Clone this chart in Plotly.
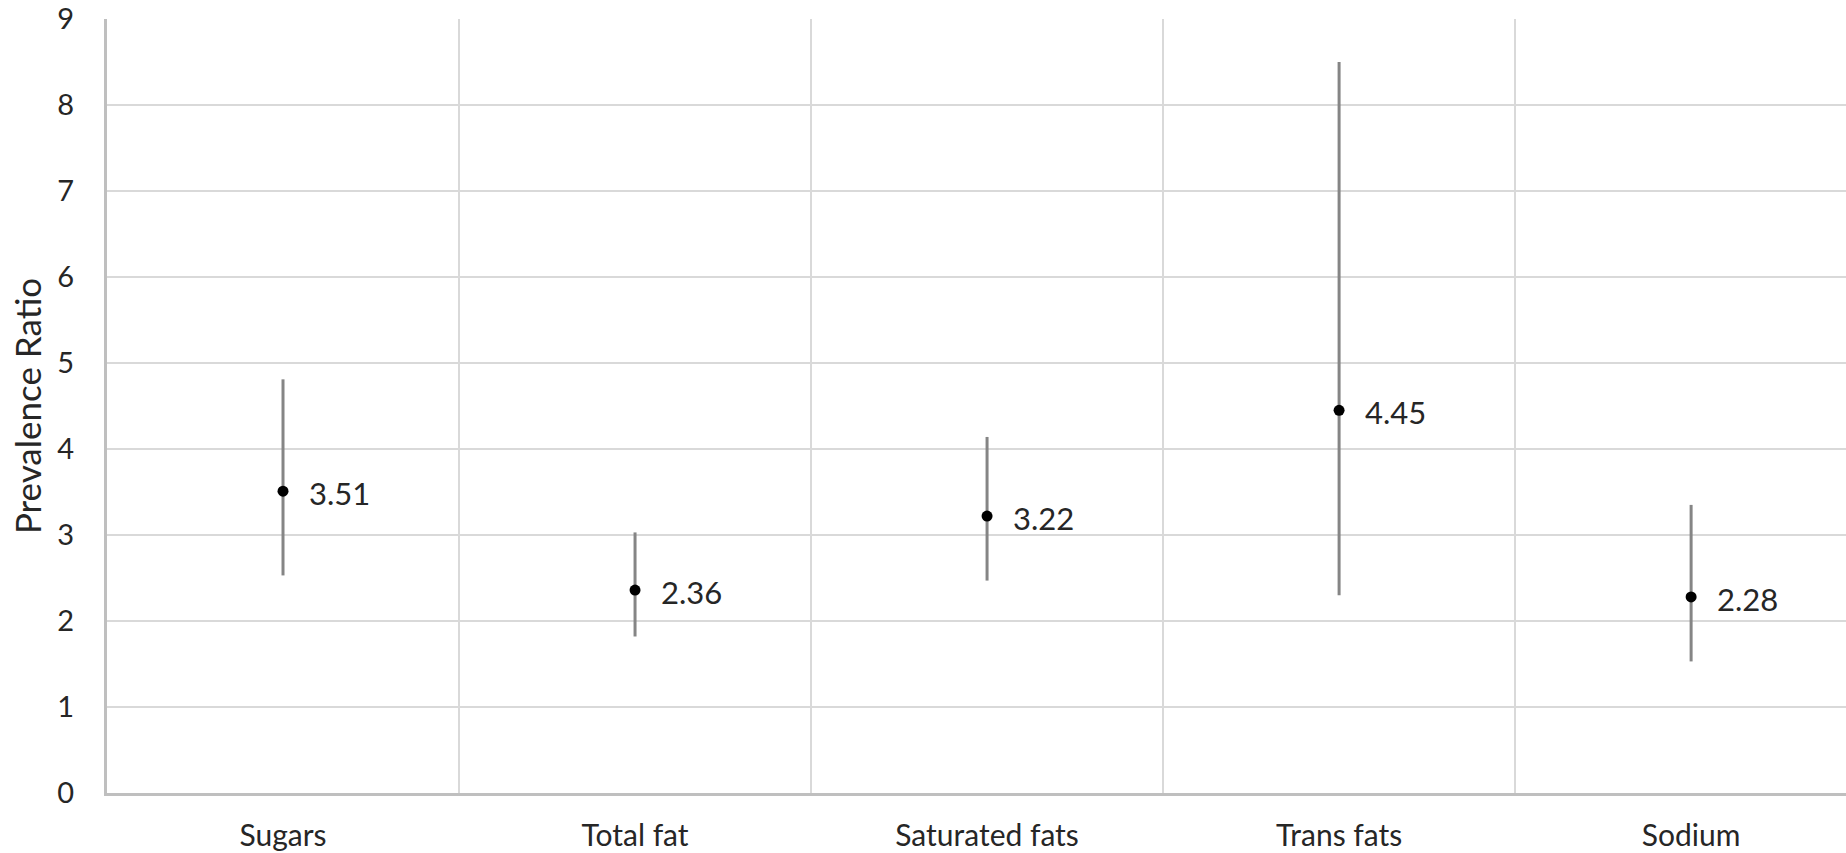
import plotly.graph_objects as go

# Prevalence ratios with 95% confidence limits per nutrient
nutrients = ["Sugars", "Total fat", "Saturated fats", "Trans fats", "Sodium"]
ratio = [3.51, 2.36, 3.22, 4.45, 2.28]
ci_low = [2.53, 1.82, 2.47, 2.30, 1.53]
ci_high = [4.81, 3.03, 4.14, 8.50, 3.35]

y_ticks = list(range(0, 10))

positions = list(range(len(nutrients)))
err_plus = [h - r for h, r in zip(ci_high, ratio)]
err_minus = [r - l for r, l in zip(ratio, ci_low)]

FONT = "Lato"
TEXT_COLOR = "#262626"
SIZE = 31

fig = go.Figure()
fig.add_trace(go.Scatter(
    x=positions,
    y=ratio,
    mode="markers",
    marker=dict(color="black", size=11, symbol="circle"),
    error_y=dict(
        type="data",
        symmetric=False,
        array=err_plus,
        arrayminus=err_minus,
        color="#858585",
        thickness=3,
        width=0,
    ),
    showlegend=False,
    hoverinfo="skip",
))

# value labels to the right of each point
for xp, r in zip(positions, ratio):
    fig.add_annotation(
        x=xp, y=r, text=f"{r:.2f}", showarrow=False,
        xanchor="left", yanchor="middle", xshift=24, yshift=-2,
        font=dict(family=FONT, size=SIZE, color=TEXT_COLOR),
    )

fig.update_layout(
    width=1846,
    height=853,
    margin=dict(l=107, r=0, t=19, b=60),
    paper_bgcolor="white",
    plot_bgcolor="white",
    font=dict(family=FONT, size=SIZE, color=TEXT_COLOR),
)

fig.update_xaxes(
    range=[-0.5, 4.44],
    automargin=False,
    tickmode="array",
    tickvals=positions,
    ticktext=nutrients,
    showgrid=False,
    zeroline=False,
    showline=True,
    linecolor="#bfbfbf",
    linewidth=3,
    ticks="outside",
    ticklen=14,
    tickcolor="rgba(0,0,0,0)",
    minor=dict(tick0=0.5, dtick=1, showgrid=True, gridcolor="#d9d9d9", gridwidth=2, ticks=""),
    tickfont=dict(family=FONT, size=30, color=TEXT_COLOR),
)

fig.update_yaxes(
    range=[0, 9],
    automargin=False,
    tickmode="array",
    tickvals=y_ticks,
    showgrid=True,
    gridcolor="#d9d9d9",
    gridwidth=2,
    zeroline=False,
    showline=True,
    linecolor="#bfbfbf",
    linewidth=3,
    ticks="outside",
    ticklen=24,
    tickcolor="rgba(0,0,0,0)",
    title=dict(text="Prevalence Ratio", font=dict(family=FONT, size=35, color=TEXT_COLOR), standoff=6),
    tickfont=dict(family=FONT, size=29, color=TEXT_COLOR),
)

fig.write_html("out.html")
